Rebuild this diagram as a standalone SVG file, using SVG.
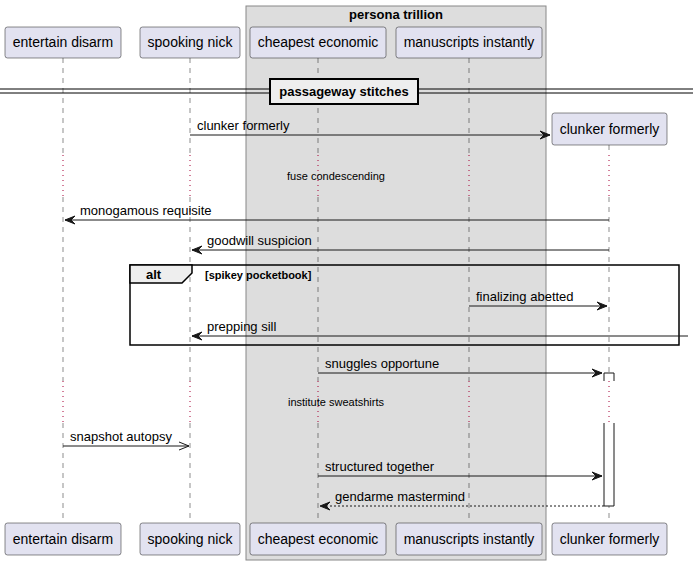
<svg xmlns="http://www.w3.org/2000/svg" width="693" height="565" viewBox="0 0 693 565">
<style>
.p{fill:#E2E2F0;stroke:#181818;stroke-width:0.5}
.pt{font-family:"Liberation Sans",Arial,sans-serif;font-size:14px;fill:#000;text-anchor:middle}
.ml{font-family:"Liberation Sans",Arial,sans-serif;font-size:13px;fill:#000}
.dl{font-family:"Liberation Sans",Arial,sans-serif;font-size:11px;fill:#000;text-anchor:middle}
.b13{font-family:"Liberation Sans",Arial,sans-serif;font-size:13px;font-weight:bold;fill:#000}
.b11{font-family:"Liberation Sans",Arial,sans-serif;font-size:11px;font-weight:bold;fill:#000}
.ll{stroke:#181818;stroke-width:0.5;stroke-dasharray:5,5;fill:none}
.dd{stroke:#A80036;stroke-width:1;stroke-dasharray:1,4;fill:none}
.m{stroke:#181818;stroke-width:1;fill:none}
.r{stroke:#181818;stroke-width:1;fill:none;stroke-dasharray:2,2}
.ah{fill:#181818;stroke:#181818;stroke-width:1}
.act{fill:#FFFFFF;stroke:#181818;stroke-width:1}
</style>
<g id="group-persona-trillion">
<rect x="246" y="6" width="300" height="554" fill="#DDDDDD" stroke="#888888" stroke-width="1"/>
<text class="b13" x="396" y="19" text-anchor="middle">persona trillion</text>
</g>
<g id="lifelines">
<path class="ll" d="M63,58V155M63,197V381M63,423V523"/>
<path class="dd" d="M63,155V197M63,381V423"/>
<path class="ll" d="M190,58V155M190,197V381M190,423V523"/>
<path class="dd" d="M190,155V197M190,381V423"/>
<path class="ll" d="M318,58V155M318,197V381M318,423V523"/>
<path class="dd" d="M318,155V197M318,381V423"/>
<path class="ll" d="M469,58V155M469,197V381M469,423V523"/>
<path class="dd" d="M469,155V197M469,381V423"/>
<path class="ll" d="M609,145V155M609,197V381M609,423V523"/>
<path class="dd" d="M609,155V197M609,381V423"/>
</g>
<g id="divider">
<line x1="0" y1="89" x2="693" y2="89" stroke="#000" stroke-width="1"/>
<line x1="0" y1="93" x2="693" y2="93" stroke="#000" stroke-width="1"/>
<rect x="270" y="79" width="148" height="25" fill="#EEEEEE" stroke="#000" stroke-width="2"/>
<text class="b13" x="344" y="96" text-anchor="middle">passageway stitches</text>
</g>
<g id="p-entertain-disarm">
<rect class="p" x="5" y="27" width="116" height="31" rx="2.5"/>
<text class="pt" x="63" y="47">entertain disarm</text>
<rect class="p" x="5" y="523" width="116" height="32" rx="2.5"/>
<text class="pt" x="63" y="544">entertain disarm</text>
</g>
<g id="p-spooking-nick">
<rect class="p" x="140" y="27" width="100" height="31" rx="2.5"/>
<text class="pt" x="190" y="47">spooking nick</text>
<rect class="p" x="140" y="523" width="100" height="32" rx="2.5"/>
<text class="pt" x="190" y="544">spooking nick</text>
</g>
<g id="p-cheapest-economic">
<rect class="p" x="250" y="27" width="136" height="31" rx="2.5"/>
<text class="pt" x="318" y="47">cheapest economic</text>
<rect class="p" x="250" y="523" width="136" height="32" rx="2.5"/>
<text class="pt" x="318" y="544">cheapest economic</text>
</g>
<g id="p-manuscripts-instantly">
<rect class="p" x="396" y="27" width="146" height="31" rx="2.5"/>
<text class="pt" x="469" y="47">manuscripts instantly</text>
<rect class="p" x="396" y="523" width="146" height="32" rx="2.5"/>
<text class="pt" x="469" y="544">manuscripts instantly</text>
</g>
<g id="p-clunker-formerly">
<rect class="p" x="552" y="113" width="115" height="32" rx="2.5"/>
<text class="pt" x="609.5" y="134">clunker formerly</text>
<rect class="p" x="552" y="523" width="115" height="32" rx="2.5"/>
<text class="pt" x="609.5" y="544">clunker formerly</text>
</g>
<g id="activation">
<rect x="604" y="373" width="10" height="8" fill="#FFFFFF" stroke="none"/>
<path class="act" d="M604,381V373H614V381" fill="none"/>
<rect x="604" y="423" width="10" height="83" fill="#FFFFFF" stroke="none"/>
<path class="act" d="M604,423V506H614V423"/>
</g>
<g id="alt-fragment">
<rect x="130" y="265" width="549" height="80" fill="none" stroke="#000" stroke-width="1.5"/>
<path d="M130,265H192V273L182,283H130Z" fill="#EEEEEE" stroke="#000" stroke-width="1.5"/>
<text class="b13" x="146" y="279">alt</text>
<text class="b11" x="205" y="279">[spikey pocketbook]</text>
</g>
<g id="connectors">
<line class="m" x1="190" y1="135" x2="550" y2="135"/>
<polygon class="ah" points="540,131 550,135 540,139 544,135"/>
<text class="ml" x="197" y="130">clunker formerly</text>

<text class="dl" x="336" y="180">fuse condescending</text>

<line class="m" x1="609" y1="220" x2="65" y2="220"/>
<polygon class="ah" points="75,216 65,220 75,224 71,220"/>
<text class="ml" x="80" y="215">monogamous requisite</text>

<line class="m" x1="609" y1="250" x2="192" y2="250"/>
<polygon class="ah" points="202,246 192,250 202,254 198,250"/>
<text class="ml" x="207" y="245">goodwill suspicion</text>

<line class="m" x1="469" y1="306" x2="607" y2="306"/>
<polygon class="ah" points="597,302 607,306 597,310 601,306"/>
<text class="ml" x="476" y="301">finalizing abetted</text>

<line class="m" x1="688" y1="336" x2="192" y2="336"/>
<polygon class="ah" points="202,332 192,336 202,340 198,336"/>
<text class="ml" x="207" y="331">prepping sill</text>

<line class="m" x1="318" y1="373" x2="602" y2="373"/>
<polygon class="ah" points="592,369 602,373 592,377 596,373"/>
<text class="ml" x="325" y="368">snuggles opportune</text>

<text class="dl" x="336" y="406">institute sweatshirts</text>

<line class="m" x1="63" y1="446" x2="189" y2="446"/>
<path class="m" d="M179,442L189,446L179,450"/>
<text class="ml" x="70" y="441">snapshot autopsy</text>

<line class="m" x1="318" y1="476" x2="602" y2="476"/>
<polygon class="ah" points="592,472 602,476 592,480 596,476"/>
<text class="ml" x="325" y="471">structured together</text>

<line class="r" x1="604" y1="506" x2="320" y2="506"/>
<polygon class="ah" points="330,502 320,506 330,510 326,506"/>
<text class="ml" x="335" y="501">gendarme mastermind</text>
</g>
</svg>
